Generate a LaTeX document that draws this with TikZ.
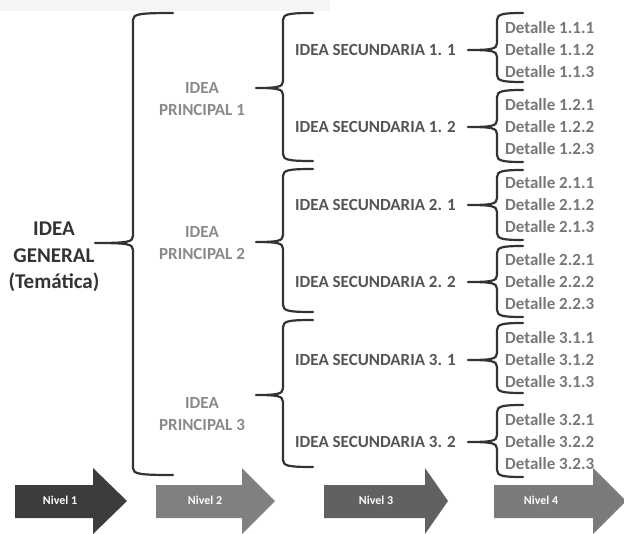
\documentclass[tikz,border=0pt]{standalone}
\usepackage{fontspec}
\setmainfont{Carlito}

\definecolor{tinta}{HTML}{333333}
\definecolor{principalgris}{HTML}{8A8A8A}
\definecolor{secundariagris}{HTML}{555555}
\definecolor{detallegris}{HTML}{777777}
\definecolor{nivelA}{HTML}{3C3C3C}
\definecolor{nivelB}{HTML}{808080}
\definecolor{nivelC}{HTML}{616161}
\definecolor{nivelD}{HTML}{7B7B7B}

\tikzset{
	llave/.style={draw=tinta, line width=2.2, line join=round, line cap=round},
	general/.style={text=tinta, font=\fontsize{21}{26.5}\selectfont\bfseries, align=center, inner sep=0},
	principal/.style={text=principalgris, font=\fontsize{17}{22}\selectfont\bfseries, align=center, inner sep=0},
	secundaria/.style={text=secundariagris, font=\fontsize{17}{20}\selectfont\bfseries, anchor=west, inner sep=0},
	detalle/.style={text=detallegris, font=\fontsize{17}{20}\selectfont\bfseries, anchor=west, inner sep=0},
	nivel/.style={text=white, font=\fontsize{12}{14}\selectfont\bfseries, inner sep=0}
}

% curly brace: spine x, tip x, arm x, top y, tip y, bottom y
\newcommand{\llave}[6]{%
	\draw[llave] (#3, #4) .. controls (#1+6, #4) and (#1, #4+1) .. (#1, #4+7) -- (#1, #5-7)
		.. controls (#1, #5-1) and (#1-5, #5) .. (#2, #5)
		.. controls (#1-5, #5) and (#1, #5+1) .. (#1, #5+7) -- (#1, #6-7)
		.. controls (#1, #6-1) and (#1+6, #6) .. (#3, #6);}

% level arrow: left x, head x, tip x, colour
\newcommand{\flecha}[4]{%
	\fill[#4] (#1, 485) -- (#2, 485) -- (#2, 468) -- (#3, 501) -- (#2, 534) -- (#2, 518) -- (#1, 518) -- cycle;}

\begin{document}
\begin{tikzpicture}[x=1pt, y=-1pt]
		\clip (0, 0) rectangle (624, 533);
		
		% Scan band
		\fill[gray!8] (0, 0) rectangle (330, 11);
		
		% Idea general
		\node[general] (general) at (54, 257) {IDEA\\GENERAL\\(Temática)};
		
		% Ideas principales
		\node[principal] (principal1) at (202, 99) {IDEA\\PRINCIPAL 1};
		\node[principal] (principal2) at (202, 243) {IDEA\\PRINCIPAL 2};
		\node[principal] (principal3) at (202, 414) {IDEA\\PRINCIPAL 3};
		
		% Ideas secundarias
		\node[secundaria] (sec11) at (295, 50) {IDEA SECUNDARIA 1. 1};
		\node[secundaria] (sec12) at (295, 127) {IDEA SECUNDARIA 1. 2};
		\node[secundaria] (sec21) at (295, 205) {IDEA SECUNDARIA 2. 1};
		\node[secundaria] (sec22) at (295, 282) {IDEA SECUNDARIA 2. 2};
		\node[secundaria] (sec31) at (295, 360) {IDEA SECUNDARIA 3. 1};
		\node[secundaria] (sec32) at (295, 442) {IDEA SECUNDARIA 3. 2};
		
		% Detalles
		\node[detalle] (det111) at (505, 28) {Detalle 1.1.1};
		\node[detalle] (det112) at (505, 50) {Detalle 1.1.2};
		\node[detalle] (det113) at (505, 72) {Detalle 1.1.3};
		\node[detalle] (det121) at (505, 105) {Detalle 1.2.1};
		\node[detalle] (det122) at (505, 127) {Detalle 1.2.2};
		\node[detalle] (det123) at (505, 149) {Detalle 1.2.3};
		\node[detalle] (det211) at (505, 183) {Detalle 2.1.1};
		\node[detalle] (det212) at (505, 205) {Detalle 2.1.2};
		\node[detalle] (det213) at (505, 227) {Detalle 2.1.3};
		\node[detalle] (det221) at (505, 260) {Detalle 2.2.1};
		\node[detalle] (det222) at (505, 282) {Detalle 2.2.2};
		\node[detalle] (det223) at (505, 304) {Detalle 2.2.3};
		\node[detalle] (det311) at (505, 338) {Detalle 3.1.1};
		\node[detalle] (det312) at (505, 360) {Detalle 3.1.2};
		\node[detalle] (det313) at (505, 382) {Detalle 3.1.3};
		\node[detalle] (det321) at (505, 420) {Detalle 3.2.1};
		\node[detalle] (det322) at (505, 442) {Detalle 3.2.2};
		\node[detalle] (det323) at (505, 464) {Detalle 3.2.3};
		
		% Braces
		% general -> principales
		\llave{133}{95}{173}{13}{243}{475}
		
		% principales -> secundarias
		\llave{283}{256}{313}{13}{88}{161}
		\llave{283}{256}{313}{169}{242}{312}
		\llave{283}{256}{313}{320}{395}{467}
		
		% secundarias -> detalles
		\llave{497}{468}{523}{13}{50}{82}
		\llave{497}{468}{523}{90}{127}{162}
		\llave{497}{468}{523}{170}{205}{240}
		\llave{497}{468}{523}{246}{282}{317}
		\llave{497}{468}{523}{323}{360}{393}
		\llave{497}{468}{523}{405}{442}{477}
		
		% Level arrows
		\flecha{15}{93}{127}{nivelA}
		\flecha{156}{242}{275}{nivelB}
		\flecha{324}{425}{448}{nivelC}
		\flecha{494}{593}{626}{nivelD}
		
		% Level labels
		\node[nivel] (nivel1) at (60, 500) {Nivel 1};
		\node[nivel] (nivel2) at (205, 500) {Nivel 2};
		\node[nivel] (nivel3) at (376, 500) {Nivel 3};
		\node[nivel] (nivel4) at (541, 500) {Nivel 4};
		
	\end{tikzpicture}
\end{document}
